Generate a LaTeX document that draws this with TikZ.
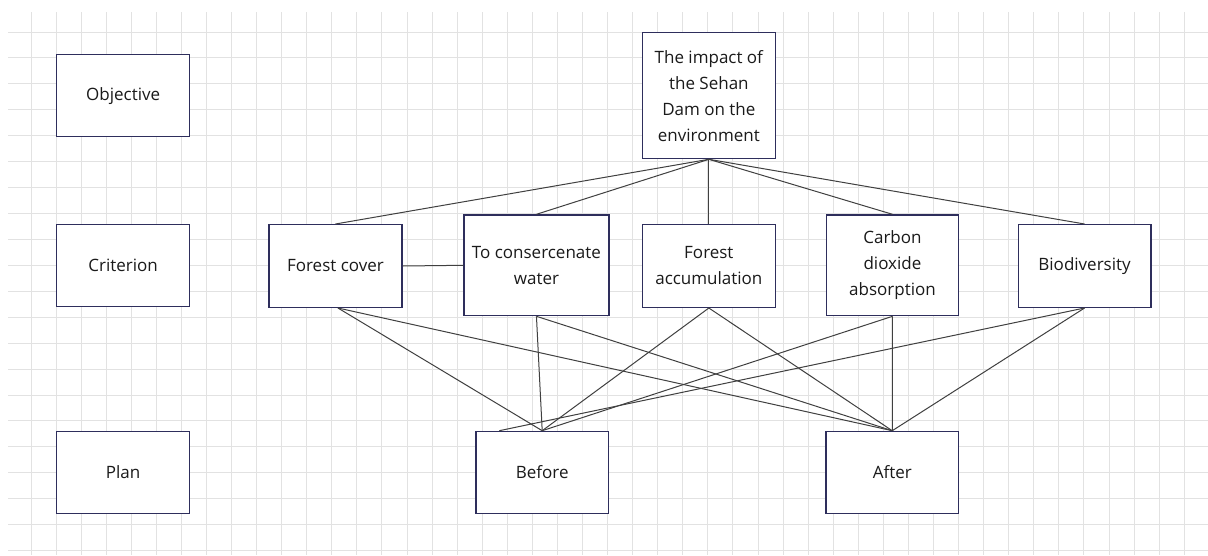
\documentclass[tikz,border=0pt]{standalone}
\usepackage{fontspec}
\setmainfont{Open Sans}
\definecolor{boxc}{HTML}{2E2E5C}
\definecolor{linec}{HTML}{404040}
\definecolor{gridc}{HTML}{E2E2E2}
\definecolor{textc}{HTML}{1A1A1A}
\tikzset{
  box/.style={draw=boxc, line width=1.3pt, fill=white, anchor=north west,
    align=center, inner sep=0pt, text=textc,
    font=\fontsize{17}{26}\selectfont},
  conn/.style={draw=linec, line width=1pt},
  gridline/.style={draw=gridc, line width=1pt}
}
\begin{document}
\begin{tikzpicture}[x=1pt,y=-1pt]
\useasboundingbox (0,0) rectangle (1208,555);
\fill[white] (0,0) rectangle (1208,555);
% grid
\foreach \k in {1,...,47} {
  \draw[gridline] ({5.93+25.07*\k},12) -- ({5.93+25.07*\k},555);
}
\foreach \k in {0,...,20} {
  \draw[gridline] (8,{32+25.93*\k}) -- (1208,{32+25.93*\k});
}
% left column
\node[box, minimum width=133pt, minimum height=82pt] (obj) at (56,54) {Objective};
\node[box, minimum width=133pt, minimum height=82pt] (crit) at (56,224) {Criterion};
\node[box, minimum width=133pt, minimum height=82pt] (plan) at (56,430.5) {Plan};
% top
\node[box, minimum width=133pt, minimum height=126pt] (top) at (641.7,32) {The impact of\\the Sehan\\Dam on the\\environment};
% criteria
\node[box, minimum width=133pt, minimum height=82.7pt] (fc) at (268.3,224) {Forest cover};
\node[box, minimum width=145pt, minimum height=100.7pt] (wat) at (463.3,214.3) {To consercenate\\water};
\node[box, minimum width=132.6pt, minimum height=82.7pt] (fa) at (641.9,224) {Forest\\accumulation};
\node[box, minimum width=132.2pt, minimum height=100.7pt] (co) at (825.7,214.3) {Carbon\\dioxide\\absorption};
\node[box, minimum width=132.6pt, minimum height=82.7pt] (bio) at (1017.6,224) {Biodiversity};
% plans
\node[box, minimum width=132.5pt, minimum height=82pt] (bef) at (475.3,430.7) {Before};
\node[box, minimum width=132.6pt, minimum height=82pt] (aft) at (825.3,430.7) {After};
% connectors top
\foreach \n in {fc,wat,fa,co,bio} {
  \draw[conn] (top.south) -- (\n.north);
}
\draw[conn] (fc.east) -- (wat.west);
% connectors to plans
\draw[conn] ([xshift=2.5pt]fc.south) -- (bef.north);
\draw[conn] ([xshift=2.5pt]fc.south) -- (aft.north);
\draw[conn] (wat.south) -- (bef.north);
\draw[conn] (wat.south) -- (aft.north);
\draw[conn] (fa.south) -- (bef.north);
\draw[conn] (fa.south) -- (aft.north);
\draw[conn] (co.south) -- (bef.north);
\draw[conn] (co.south) -- (aft.north);
\draw[conn] (bio.south) -- ([xshift=24pt]bef.north west);
\draw[conn] (bio.south) -- (aft.north);
\end{tikzpicture}
\end{document}
